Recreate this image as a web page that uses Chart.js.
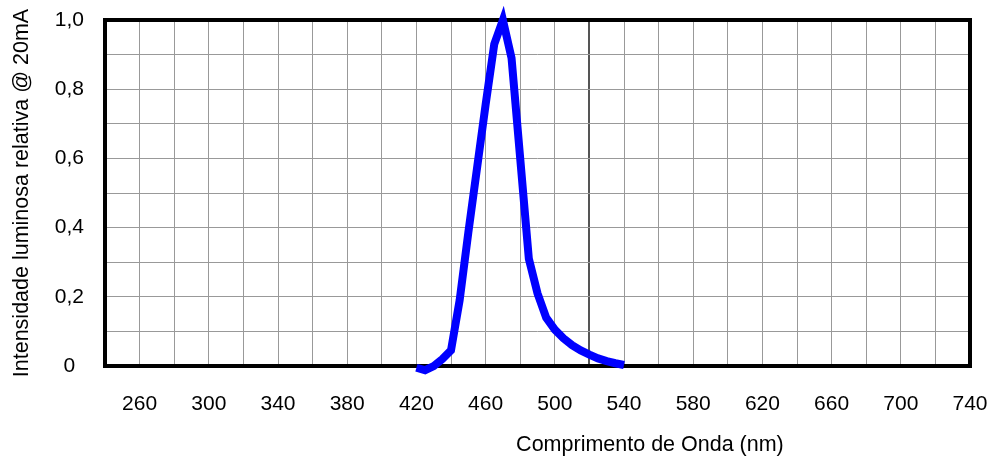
<!DOCTYPE html>
<html>
<head>
<meta charset="utf-8">
<script src="https://cdn.jsdelivr.net/npm/chart.js@4/dist/chart.umd.min.js"></script>
<style>
  html, body { margin: 0; padding: 0; background: #fff; }
  #wrap { position: relative; width: 1000px; height: 465px; }
</style>
</head>
<body>
<div id="wrap"><canvas id="c"></canvas></div>
<script>
// Wavelength (nm) and relative luminous intensity
const wavelengths = [420, 425, 430, 435, 440, 445, 450, 455, 460, 465, 470, 475, 480, 485, 490, 495, 500, 505, 510, 515, 520, 525, 530, 535, 540];
const intensity   = [-0.005, -0.012, 0.0, 0.02, 0.045, 0.19, 0.385, 0.57, 0.755, 0.93, 1.0, 0.89, 0.60, 0.31, 0.21, 0.14, 0.105, 0.08, 0.06, 0.045, 0.033, 0.022, 0.014, 0.008, 0.003];
const xTickLabels = [260, 300, 340, 380, 420, 460, 500, 540, 580, 620, 660, 700, 740];
const yTickLabels = ['0', '0,2', '0,4', '0,6', '0,8', '1,0'];
const xTitle = 'Comprimento de Onda (nm)';
const yTitle = 'Intensidade luminosa relativa @ 20mA';

const FONT = "'Liberation Sans', Arial, sans-serif";
const points = wavelengths.map((w, i) => ({ x: w, y: intensity[i] }));

const frame = {
  id: 'frame',
  beforeDatasetsDraw(chart) {
    const { ctx, chartArea: a } = chart;
    ctx.save();
    ctx.strokeStyle = '#000';
    ctx.lineWidth = 4;
    ctx.strokeRect(a.left, a.top, a.right - a.left, a.bottom - a.top);
    ctx.restore();
  },
  afterDraw(chart) {
    const { ctx, chartArea: a } = chart;
    ctx.save();
    ctx.fillStyle = '#000';
    ctx.font = '21.5px ' + FONT;
    ctx.textAlign = 'center';
    ctx.textBaseline = 'middle';
    ctx.fillText(xTitle, a.left + (a.right - a.left) * 0.630, 445);
    ctx.restore();
  }
};

new Chart(document.getElementById('c'), {
  type: 'line',
  data: {
    datasets: [{
      data: points,
      borderColor: '#0000ff',
      borderWidth: 8,
      pointRadius: 0,
      tension: 0,
      fill: false,
      clip: false
    }]
  },
  options: {
    responsive: true,
    maintainAspectRatio: false,
    animation: false,
    layout: { padding: { top: 20, right: 30, left: 0, bottom: 0 } },
    plugins: { legend: { display: false }, tooltip: { enabled: false } },
    scales: {
      x: {
        type: 'linear',
        min: 240,
        max: 740,
        afterFit(s) { s.height = 99; s.paddingLeft = 0; s.paddingRight = 0; },
        afterBuildTicks(s) {
          const t = [];
          for (let v = 240; v <= 740; v += 20) t.push({ value: v });
          s.ticks = t;
        },
        border: { display: false },
        grid: {
          drawTicks: false,
          color: c => (c.tick && c.tick.value === 520) ? '#555' : '#999',
          lineWidth: c => (c.tick && c.tick.value === 520) ? 2 : 1
        },
        ticks: {
          autoSkip: false,
          maxRotation: 0,
          padding: 26,
          color: '#000',
          font: { family: FONT, size: 21 },
          callback: v => (xTickLabels.includes(v) ? String(v) : '')
        }
      },
      y: {
        min: 0,
        max: 1,
        afterFit(s) { s.width = 105; s.paddingTop = 0; s.paddingBottom = 0; },
        afterBuildTicks(s) {
          const t = [];
          for (let i = 0; i <= 10; i++) t.push({ value: i / 10 });
          s.ticks = t;
        },
        border: { display: false },
        grid: { drawTicks: false, color: '#999', lineWidth: 1 },
        title: {
          display: true,
          text: yTitle,
          color: '#000',
          font: { family: FONT, size: 21.5 },
          padding: { top: 9, bottom: 0 }
        },
        ticks: {
          crossAlign: 'center',
          padding: 21,
          color: '#000',
          font: { family: FONT, size: 21 },
          callback: (v) => {
            const k = Math.round(v * 10);
            return k % 2 === 0 ? yTickLabels[k / 2] : '';
          }
        }
      }
    }
  },
  plugins: [frame]
});
</script>
</body>
</html>
